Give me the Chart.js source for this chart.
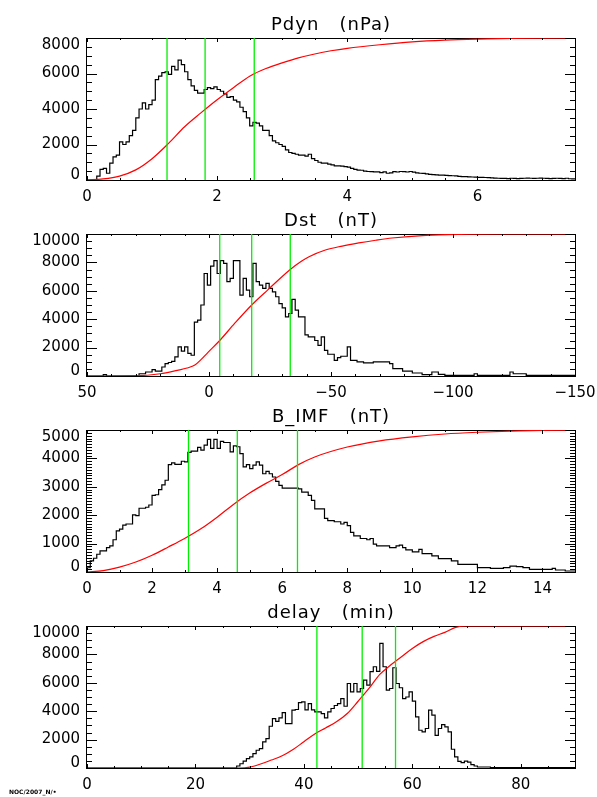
<!DOCTYPE html>
<html>
<head>
<meta charset="utf-8">
<script src="https://cdn.jsdelivr.net/npm/chart.js@4.4.1/dist/chart.umd.min.js"></script>
<style>
  body { margin: 0; background: #fff; width: 597px; height: 797px; position: relative; overflow: hidden; }
  canvas { position: absolute; left: 0; }
  #stamp { position: absolute; left: 9px; top: 788px; font: bold 6px "DejaVu Sans", sans-serif; color: #000; }
</style>
</head>
<body>
<canvas id="pdynChart" width="597" height="210" style="top:0px"></canvas>
<canvas id="dstChart" width="597" height="210" style="top:196px"></canvas>
<canvas id="bimfChart" width="597" height="210" style="top:392px"></canvas>
<canvas id="delayChart" width="597" height="210" style="top:588px"></canvas>
<div id="stamp">NOC/2007_N/•</div>
<script>
// ---- Pdyn (nPa): 150 bins of 0.05 from 0
const pdynBinStart = 0;
const pdynBinWidth = 0.05;
const pdynCounts = [
  0, 0, 0, 220, 600, 650, 380, 950, 1300, 1400,
  2150, 2000, 2150, 2500, 2800, 3500, 4000, 4350, 4000, 4250,
  4500, 5650, 5850, 6050, 6100, 5950, 6400, 6200, 6750, 6500,
  6100, 5650, 5300, 5050, 4900, 4900, 5100, 5200, 5150, 5250,
  5100, 5000, 4850, 4650, 4700, 4500, 4400, 4100, 3850, 3500,
  3050, 3250, 3200, 3050, 2800, 2800, 2500, 2200, 2100, 2000,
  1900, 1700, 1550, 1500, 1450, 1400, 1400, 1350, 1450, 1200,
  1100, 1000, 950, 950, 900, 850, 800, 800, 780, 750,
  720, 650, 600, 560, 550, 500, 480, 470, 460, 460,
  420, 460, 380, 400, 470, 450, 480, 470, 450, 480,
  440, 400, 380, 370, 350, 320, 300, 290, 280, 270,
  260, 250, 240, 230, 200, 190, 190, 180, 170, 160,
  150, 150, 140, 130, 120, 110, 100, 90, 90, 80,
  100, 90, 80, 90, 100, 110, 100, 90, 100, 110,
  100, 90, 80, 90, 100, 90, 80, 100, 70, 60
];
const pdynCumX = [0, 0.25, 0.5, 0.75, 1.0, 1.25, 1.5, 1.75, 2.0, 2.25, 2.5, 2.75, 3.0, 3.25, 3.5, 3.75, 4.0, 4.5, 5.0, 5.5, 6.0, 6.5, 7.0, 7.5];
const pdynCumY = [0, 60, 220, 570, 1200, 2050, 3000, 3780, 4520, 5200, 5850, 6280, 6600, 6880, 7100, 7280, 7420, 7620, 7780, 7880, 7940, 7980, 7995, 8000];
const pdynQuartiles = [1.23, 1.815, 2.57];
const pdynXRange = [0, 7.5];
const pdynYMax = 8000;

// ---- Dst (nT): 150 bins of 4/3 nT, read left to right from +50
const dstBinStart = 50;
const dstBinWidth = -4 / 3;
const dstCounts = [
  0, 0, 0, 0, 0, 100, 0, 0, 0, 0,
  0, 0, 0, 0, 0, 0, 160, 160, 280, 280,
  450, 350, 350, 635, 870, 950, 1035, 1340, 2050, 1750,
  2050, 1600, 1460, 3800, 3930, 5000, 7220, 6400, 7740, 8120,
  7220, 8120, 7930, 6640, 6870, 8120, 8120, 5690, 6870, 6050,
  5580, 7930, 6640, 6400, 6170, 6520, 6170, 5930, 5580, 5100,
  4800, 4160, 4400, 5390, 4640, 4160, 4160, 2900, 2750, 2750,
  2500, 2160, 2750, 1810, 1530, 1530, 1100, 1290, 1390, 1390,
  2050, 1100, 1100, 990, 990, 920, 920, 920, 990, 990,
  990, 990, 990, 870, 520, 520, 520, 350, 350, 350,
  210, 210, 210, 95, 95, 95, 280, 280, 120, 120,
  50, 50, 50, 50, 50, 50, 50, 50, 50, 160,
  50, 50, 50, 50, 50, 50, 50, 50, 50, 50,
  280, 160, 160, 160, 160, 50, 50, 50, 50, 50,
  50, 50, 50, 50, 50, 50, 50, 50, 50, 50
];
const dstCumX = [50, 30, 20, 13, 9, 5.6, 3.3, 0.5, -4.4, -10.5, -17.5, -24, -33.3, -38, -41, -47.7, -54.6, -61.4, -68.3, -75, -89, -103, -120, -150];
const dstCumY = [0, 20, 160, 400, 560, 800, 1150, 1650, 2500, 3700, 5000, 6050, 7500, 8100, 8400, 8870, 9150, 9370, 9560, 9720, 9910, 9980, 10000, 10000];
const dstQuartiles = [-4.4, -17.5, -33.3];
const dstXRange = [-150, 50];
const dstYMax = 10000;

// ---- B_IMF (nT): 150 bins of 0.1 from 0
const bimfBinStart = 0;
const bimfBinWidth = 0.1;
const bimfCounts = [
  150, 390, 485, 625, 745, 745, 860, 920, 1135, 1450,
  1510, 1650, 1690, 1690, 2010, 1985, 2245, 2245, 2280, 2360,
  2695, 2720, 2900, 3070, 3230, 3780, 3840, 3790, 3790, 3900,
  3880, 4210, 4255, 4255, 4385, 4290, 4470, 4670, 4350, 4670,
  4350, 4600, 4560, 4560, 4230, 4440, 4410, 4170, 3700, 3780,
  3640, 3760, 3880, 3760, 3460, 3545, 3460, 3345, 3190, 3050,
  2955, 2955, 2955, 2955, 2950, 2930, 2810, 2810, 2695, 2520,
  2220, 2220, 2220, 1890, 1810, 1810, 1770, 1770, 1690, 1750,
  1630, 1395, 1275, 1275, 1180, 1180, 1135, 1180, 980, 920,
  920, 920, 920, 860, 860, 920, 945, 860, 780, 780,
  710, 710, 800, 650, 650, 650, 570, 570, 470, 470,
  470, 470, 390, 390, 270, 270, 270, 270, 270, 270,
  155, 155, 155, 155, 130, 130, 130, 130, 155, 155,
  210, 210, 190, 190, 155, 155, 95, 95, 95, 95,
  95, 95, 95, 130, 70, 70, 70, 35, 35, 35
];
const bimfCumX = [0, 0.5, 1, 1.5, 2, 2.5, 3, 3.5, 4, 4.5, 5, 5.5, 6, 6.5, 7, 8, 9, 10, 11, 12, 13, 14, 15];
const bimfCumY = [0, 50, 170, 350, 590, 880, 1180, 1520, 1930, 2380, 2780, 3120, 3430, 3780, 4050, 4400, 4620, 4760, 4860, 4920, 4960, 4990, 5000];
const bimfQuartiles = [3.12, 4.62, 6.47];
const bimfXRange = [0, 15];
const bimfYMax = 5000;

// ---- delay (min): 150 bins of 0.6 from 0
const delayBinStart = 0;
const delayBinWidth = 0.6;
const delayCounts = [
  0, 0, 0, 0, 0, 0, 0, 0, 0, 0,
  0, 0, 0, 0, 0, 0, 0, 0, 0, 0,
  0, 0, 0, 0, 0, 0, 0, 0, 0, 0,
  0, 0, 0, 0, 0, 0, 0, 0, 0, 0,
  0, 0, 0, 0, 0, 0, 140, 300, 490, 660,
  780, 1010, 1250, 1360, 1835, 2070, 2940, 3480, 3290, 3530,
  3900, 3130, 3130, 4070, 4120, 4610, 4660, 4100, 4540, 4100,
  3950, 3950, 3835, 3530, 3950, 4190, 4400, 4540, 4890, 4350,
  5950, 5360, 5950, 5360, 5600, 6190, 5835, 6780, 7130, 6800,
  8780, 7130, 5480, 5600, 7060, 5950, 5650, 4890, 5000, 5360,
  4710, 3600, 2660, 2540, 2780, 4070, 3720, 2300, 2780, 3060,
  2890, 2540, 1320, 780, 470, 380, 490, 420, 235, 140,
  70, 70, 70, 70, 25, 25, 25, 25, 25, 25,
  25, 25, 25, 25, 25, 25, 25, 25, 25, 25,
  25, 25, 25, 25, 25, 25, 25, 25, 25, 25
];
const delayCumX = [0, 28, 30, 32, 34, 36, 38, 40, 42, 44, 46, 48, 50, 52, 54, 56, 58, 60, 62, 64, 66, 68, 70, 90];
const delayCumY = [0, 0, 60, 280, 560, 860, 1300, 1850, 2400, 2820, 3250, 3840, 4700, 5600, 6590, 7250, 7840, 8420, 8900, 9270, 9550, 9900, 10000, 10000];
const delayQuartiles = [42.4, 50.75, 56.9];
const delayXRange = [0, 90];
const delayYMax = 10000;

// Build step points for a histogram: each point sits on a bin's left edge
function histPoints(start, width, counts) {
  const pts = counts.map((c, i) => ({ x: start + i * width, y: c }));
  pts.push({ x: start + counts.length * width, y: counts[counts.length - 1] });
  return pts;
}

function zipPoints(xs, ys) {
  return xs.map((x, i) => ({ x: x, y: ys[i] }));
}

const tickFont = '15px "DejaVu Sans", sans-serif';
const titleFont = '18px "DejaVu Sans", sans-serif';

// IDL-style box: inward major/minor ticks on all four sides, labels and title
const idlBox = {
  id: 'idlBox',
  beforeDatasetsDraw(chart) {
    const { ctx, chartArea: a } = chart;
    ctx.save();
    ctx.strokeStyle = '#000';
    ctx.lineWidth = 1;
    ctx.strokeRect(a.left - 0.5, a.top + 0.5, a.right - a.left + 1, a.bottom - a.top);
    ctx.restore();
  },
  afterDraw(chart, args, opts) {
    const { ctx, chartArea: a, scales: { x, y } } = chart;
    ctx.save();
    ctx.strokeStyle = '#000';
    ctx.lineWidth = 1;
    ctx.beginPath();
    // x-axis ticks (bottom and top)
    const nx = Math.round((x.max - x.min) / opts.xMinor);
    for (let i = 0; i <= nx; i++) {
      const v = x.min + i * opts.xMinor;
      const major = Math.abs(v / opts.xMajor - Math.round(v / opts.xMajor)) < 1e-6;
      const len = major ? 4 : 2;
      const px = Math.round(x.getPixelForValue(v)) + 0.5;
      ctx.moveTo(px, a.bottom); ctx.lineTo(px, a.bottom - len);
      ctx.moveTo(px, a.top); ctx.lineTo(px, a.top + len);
    }
    // y-axis ticks (left and right)
    const ny = Math.round((y.max - y.min) / opts.yMinor);
    for (let i = 0; i <= ny; i++) {
      const v = y.min + i * opts.yMinor;
      const major = Math.abs(v / opts.yMajor - Math.round(v / opts.yMajor)) < 1e-6;
      const len = major ? 10 : 5;
      const py = Math.round(y.getPixelForValue(v)) + 0.5;
      ctx.moveTo(a.left, py); ctx.lineTo(a.left + len, py);
      ctx.moveTo(a.right, py); ctx.lineTo(a.right - len, py);
    }
    ctx.stroke();

    // tick labels from the library's own ticks
    ctx.fillStyle = '#000';
    ctx.font = tickFont;
    ctx.textAlign = 'center';
    ctx.textBaseline = 'middle';
    x.ticks.forEach(t => {
      ctx.fillText(t.label, x.getPixelForValue(t.value), a.bottom + 17);
    });
    ctx.textAlign = 'right';
    y.ticks.forEach(t => {
      let py = y.getPixelForValue(t.value);
      if (t.value === y.max) py += 7;
      if (t.value === y.min) py -= 5;
      ctx.fillText(t.label, a.left - 7, py);
    });

    // title
    ctx.font = titleFont;
    ctx.textAlign = 'center';
    ctx.textBaseline = 'alphabetic';
    if ('letterSpacing' in ctx) ctx.letterSpacing = '1px';
    ctx.fillText(opts.title, (a.left + a.right) / 2, a.top - 8);
    ctx.restore();
  }
};

function makePanel(canvasId, cfg) {
  const ctx = document.getElementById(canvasId).getContext('2d');
  const datasets = [
    {
      data: histPoints(cfg.binStart, cfg.binWidth, cfg.counts),
      stepped: 'before',
      borderColor: '#000',
      borderWidth: 1.2,
      pointRadius: 0,
      order: 3
    },
    {
      data: zipPoints(cfg.cumX, cfg.cumY),
      cubicInterpolationMode: 'monotone',
      borderColor: '#ff0000',
      borderWidth: 1.2,
      pointRadius: 0,
      order: 2
    }
  ];
  cfg.quartiles.forEach(q => {
    datasets.push({
      data: [{ x: q, y: 0 }, { x: q, y: cfg.yMax }],
      borderColor: '#00ee00',
      borderWidth: 1.3,
      pointRadius: 0,
      order: 1
    });
  });
  return new Chart(ctx, {
    type: 'line',
    data: { datasets: datasets },
    plugins: [idlBox],
    options: {
      responsive: false,
      animation: false,
      devicePixelRatio: 1,
      events: [],
      layout: { padding: { top: 38, left: 0, right: 22, bottom: 0 } },
      plugins: {
        legend: { display: false },
        tooltip: { enabled: false },
        idlBox: {
          title: cfg.title,
          xMajor: cfg.xMajor, xMinor: cfg.xMinor,
          yMajor: cfg.yMajor, yMinor: cfg.yMinor
        }
      },
      scales: {
        x: {
          type: 'linear',
          min: cfg.xRange[0],
          max: cfg.xRange[1],
          reverse: !!cfg.reverse,
          grid: { display: false },
          border: { display: false },
          ticks: {
            display: false,
            stepSize: cfg.xMajor,
            includeBounds: false,
            callback: v => String(v).replace('-', '\u2212')
          },
          afterFit: s => { s.height = 30; }
        },
        y: {
          min: 0,
          max: cfg.yMax,
          grid: { display: false },
          border: { display: false },
          ticks: {
            display: false,
            stepSize: cfg.yMajor,
            callback: v => String(v)
          },
          afterFit: s => { s.width = 87; }
        }
      }
    }
  });
}

document.addEventListener('DOMContentLoaded', () => {
  makePanel('pdynChart', {
    title: 'Pdyn   (nPa)',
    binStart: pdynBinStart, binWidth: pdynBinWidth, counts: pdynCounts,
    cumX: pdynCumX, cumY: pdynCumY, quartiles: pdynQuartiles,
    xRange: pdynXRange, yMax: pdynYMax,
    xMajor: 2, xMinor: 0.5, yMajor: 2000, yMinor: 500
  });
  makePanel('dstChart', {
    title: 'Dst   (nT)',
    binStart: dstBinStart, binWidth: dstBinWidth, counts: dstCounts,
    cumX: dstCumX, cumY: dstCumY, quartiles: dstQuartiles,
    xRange: dstXRange, yMax: dstYMax, reverse: true,
    xMajor: 50, xMinor: 10, yMajor: 2000, yMinor: 500
  });
  makePanel('bimfChart', {
    title: 'B_IMF   (nT)',
    binStart: bimfBinStart, binWidth: bimfBinWidth, counts: bimfCounts,
    cumX: bimfCumX, cumY: bimfCumY, quartiles: bimfQuartiles,
    xRange: bimfXRange, yMax: bimfYMax,
    xMajor: 2, xMinor: 1, yMajor: 1000, yMinor: 100
  });
  makePanel('delayChart', {
    title: 'delay   (min)',
    binStart: delayBinStart, binWidth: delayBinWidth, counts: delayCounts,
    cumX: delayCumX, cumY: delayCumY, quartiles: delayQuartiles,
    xRange: delayXRange, yMax: delayYMax,
    xMajor: 20, xMinor: 5, yMajor: 2000, yMinor: 500
  });
});
</script>
</body>
</html>
